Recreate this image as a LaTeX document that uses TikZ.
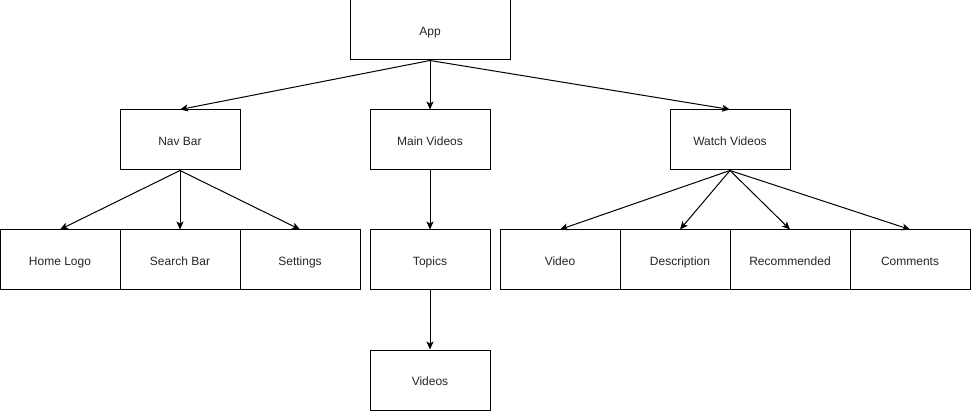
\documentclass[tikz,border=0pt]{standalone}
\usepackage{fontspec}
\setmainfont{Liberation Sans}
\usetikzlibrary{arrows.meta}

\tikzset{
    box/.style={draw, fill=white, line width=1pt, rectangle, inner sep=0pt, minimum width=120pt, minimum height=60pt,
        text height=11.4pt, text depth=0pt, text=black!85, font=\fontsize{12}{14}\selectfont},
    link/.style={line width=1pt, -{Stealth[length=8pt, width=7pt, inset=2pt]}}
}

\begin{document}
\begin{tikzpicture}[x=1pt, y=-1pt]
            \useasboundingbox (0,0) rectangle (971,411);

            \node[box, minimum width=160pt] (app) at (430,30) {App};

            \node[box] (navbar) at (180,140) {Nav Bar};
            \node[box] (mainvid) at (430,140) {Main Videos};
            \node[box] (watch) at (730,140) {Watch Videos};

            \node[box] (home) at (60,260) {Home Logo};
            \node[box] (search) at (180,260) {Search Bar};
            \node[box] (settings) at (300,260) {Settings};

            \node[box] (topics) at (430,260) {Topics};
            \node[box] (videos) at (430,380) {Videos};

            \node[box] (video) at (560,260) {Video};
            \node[box] (desc) at (680,260) {Description};
            % drawn over the right edge of desc
            \node[box] (recom) at (790,260) {Recommended};
            \node[box] (comments) at (910,260) {Comments};

            \draw[link] (app.south) -- (navbar.north);
            \draw[link] (app.south) -- (mainvid.north);
            \draw[link] (app.south) -- (watch.north);

            \draw[link] (navbar.south) -- (home.north);
            \draw[link] (navbar.south) -- (search.north);
            \draw[link] (navbar.south) -- (settings.north);

            \draw[link] (mainvid.south) -- (topics.north);
            \draw[link] (topics.south) -- (videos.north);

            \draw[link] (watch.south) -- (video.north);
            \draw[link] (watch.south) -- (desc.north);
            \draw[link] (watch.south) -- (recom.north);
            \draw[link] (watch.south) -- (comments.north);
        \end{tikzpicture}
\end{document}
